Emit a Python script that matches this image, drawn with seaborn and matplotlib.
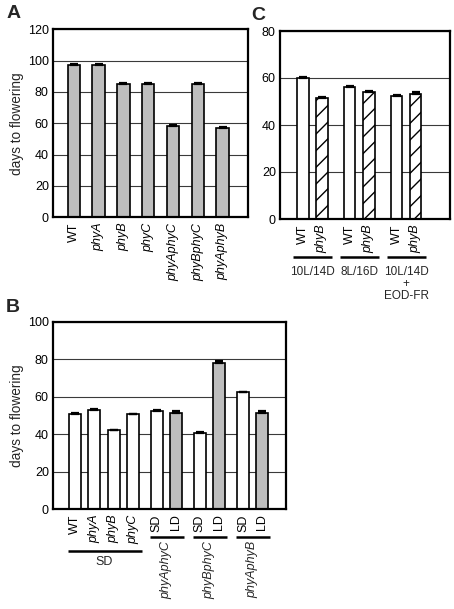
import numpy as np
import pandas as pd
import matplotlib
matplotlib.use("Agg")
import matplotlib.pyplot as plt
import matplotlib.transforms as mtransforms
import seaborn as sns

# ---------------- data ----------------
A_genotypes = ["WT", "phyA", "phyB", "phyC", "phyAphyC", "phyBphyC", "phyAphyB"]
A_days = [97.5, 97.5, 85.2, 85.2, 58.4, 85.2, 57.2]
A_err = [0.4, 0.4, 0.3, 0.3, 0.8, 0.3, 0.6]

B_singles = ["WT", "phyA", "phyB", "phyC"]
B_doubles = ["phyAphyC", "phyBphyC", "phyAphyB"]
B_bar_labels = ["WT", "phyA", "phyB", "phyC", "SD", "LD", "SD", "LD", "SD", "LD"]
B_photoperiod = ["SD", "SD", "SD", "SD", "SD", "LD", "SD", "LD", "SD", "LD"]
B_days = [50.8, 53.0, 42.0, 50.7, 52.3, 51.6, 40.6, 78.2, 62.3, 51.2]
B_err = [0.5, 0.7, 0.4, 0.3, 0.5, 0.8, 0.6, 1.0, 0.3, 1.0]

C_conditions = ["10L/14D", "8L/16D", "10L/14D\n+\nEOD-FR"]
C_genotypes = ["WT", "phyB"]
C_days = [60.0, 51.5, 56.2, 53.9, 52.4, 53.2]
C_err = [0.6, 0.4, 0.4, 0.6, 0.4, 0.7]

# ---------------- style ----------------
sns.set_theme(style="white")
plt.rcParams["font.family"] = ["Liberation Sans", "DejaVu Sans"]
plt.rcParams["hatch.linewidth"] = 1.0
plt.rcParams["hatch.color"] = "black"

W, H = 454, 609
fig = plt.figure(figsize=(W / 100, H / 100), dpi=100)
fig.patch.set_facecolor("white")

GRAY = "#bebebe"
TICK_FS = 9
ITALIC = {"phyA", "phyB", "phyC", "phyAphyC", "phyBphyC", "phyAphyB"}


def rect(l, t, r, b):
    return [l / W, 1 - b / H, (r - l) / W, (b - t) / H]


def fy(py):
    return 1 - py / H


def style_axes(ax, ymax, step):
    ax.set_ylim(0, ymax)
    ax.set_yticks(np.arange(0, ymax + 1, step))
    ax.yaxis.grid(True, color="#3a3a3a", linewidth=0.8)
    ax.xaxis.grid(False)
    ax.set_axisbelow(True)
    for s in ax.spines.values():
        s.set_visible(True)
        s.set_color("black")
        s.set_linewidth(1.6)
    ax.tick_params(axis="both", length=0, labelsize=TICK_FS, colors="black")
    ax.tick_params(axis="y", pad=3)
    ax.tick_params(axis="x", pad=4)
    ax.set_xlabel("")
    ax.set_ylabel("")


def set_xlabels(ax, pos, labels):
    ax.set_xticks(pos)
    ax.set_xticklabels(labels, rotation=90, va="top", ha="center")
    for t in ax.get_xticklabels():
        if t.get_text() in ITALIC:
            t.set_fontstyle("italic")


def add_errors(ax, pos, vals, err):
    ax.errorbar(pos, vals, yerr=[np.zeros(len(err)), err], fmt="none",
                ecolor="black", elinewidth=1.2, capsize=3.2, capthick=1.6,
                zorder=5)


# ---------------- panel A ----------------
axA = fig.add_axes(rect(53, 29.3, 248, 217.3))
posA = np.arange(len(A_genotypes), dtype=float)
dfA = pd.DataFrame({"pos": posA, "days": A_days})
sns.barplot(data=dfA, x="pos", y="days", native_scale=True, color=GRAY,
            saturation=1, width=0.5, edgecolor="black", linewidth=1.2,
            errorbar=None, ax=axA)
add_errors(axA, posA, A_days, A_err)
style_axes(axA, 120, 20)
axA.set_xlim(-0.84, 7.02)
set_xlabels(axA, posA, A_genotypes)
axA.set_ylabel("days to flowering", fontsize=9.8, labelpad=3)

# ---------------- panel B ----------------
axB = fig.add_axes(rect(53, 322, 286, 509))
gapB = 1.22
posB = list(np.arange(len(B_singles), dtype=float))
pair_starts = []
for k, g in enumerate(B_doubles):
    s = posB[len(B_singles) - 1] + gapB + k * (1 + gapB)
    pair_starts.append(s)
    posB += [s, s + 1]
posB = np.array(posB)
dfB = pd.DataFrame({"pos": posB, "days": B_days, "photo": B_photoperiod})
sns.barplot(data=dfB, x="pos", y="days", hue="photo", hue_order=["SD", "LD"],
            palette={"SD": "white", "LD": GRAY}, native_scale=True, dodge=False,
            saturation=1, width=0.62, edgecolor="black", linewidth=1.2,
            errorbar=None, legend=False, ax=axB)
add_errors(axB, posB, B_days, B_err)
style_axes(axB, 100, 20)
axB.set_xlim(-1.13, 10.88)
set_xlabels(axB, posB, B_bar_labels)
axB.set_ylabel("days to flowering", fontsize=9.8, labelpad=3)

trB = mtransforms.blended_transform_factory(axB.transData, fig.transFigure)
# SD group line under singles
axB.plot([posB[0] - 0.36, posB[len(B_singles) - 1] + 0.45], [fy(551), fy(551)],
         color="black", lw=1.8, transform=trB, clip_on=False,
         solid_capstyle="butt")
axB.text((posB[0] + posB[len(B_singles) - 1]) / 2, fy(562), "SD",
         transform=trB, ha="center", va="center", fontsize=TICK_FS)
for s, g in zip(pair_starts, B_doubles):
    axB.plot([s - 0.36, s + 1.4], [fy(537), fy(537)], color="black", lw=1.8,
             transform=trB, clip_on=False, solid_capstyle="butt")
    axB.text(s + 0.5, fy(541), g, transform=trB, rotation=90, ha="center",
             va="top", fontsize=TICK_FS, fontstyle="italic")

# ---------------- panel C ----------------
axC = fig.add_axes(rect(280, 31, 450, 219))
group_step = 2.47
posC, genoC, starts_C = [], [], []
for i, cnd in enumerate(C_conditions):
    s0 = i * group_step
    starts_C.append(s0)
    for j, g in enumerate(C_genotypes):
        posC.append(s0 + j)
        genoC.append(g)
posC = np.array(posC)
dfC = pd.DataFrame({"pos": posC, "days": C_days, "geno": genoC})
sns.barplot(data=dfC, x="pos", y="days", hue="geno", hue_order=C_genotypes,
            palette={"WT": "white", "phyB": "white"}, native_scale=True,
            dodge=False, saturation=1, width=0.62, edgecolor="black",
            linewidth=1.2, errorbar=None, legend=False, ax=axC)
for bar in axC.containers[1]:
    bar.set_hatch("//")
add_errors(axC, posC, C_days, C_err)
style_axes(axC, 80, 20)
axC.set_xlim(-1.19, 7.75)
set_xlabels(axC, posC, genoC)

trC = mtransforms.blended_transform_factory(axC.transData, fig.transFigure)
for s0, cnd in zip(starts_C, C_conditions):
    axC.plot([s0 - 0.5, s0 + 1.55], [fy(257), fy(257)], color="black", lw=1.8,
             transform=trC, clip_on=False, solid_capstyle="butt")
    axC.text(s0 + 0.5, fy(266), cnd, transform=trC, ha="center", va="top",
             fontsize=8.5, linespacing=1.0, multialignment="center")

# ---------------- panel letters ----------------
fig.text(14 / W, fy(14), "A", fontsize=14, fontweight="bold", ha="center",
         va="center")
fig.text(13 / W, fy(307), "B", fontsize=14, fontweight="bold", ha="center",
         va="center")
fig.text(258 / W, fy(15), "C", fontsize=14, fontweight="bold", ha="center",
         va="center")

fig.savefig("out.png", dpi=100, facecolor="white")
